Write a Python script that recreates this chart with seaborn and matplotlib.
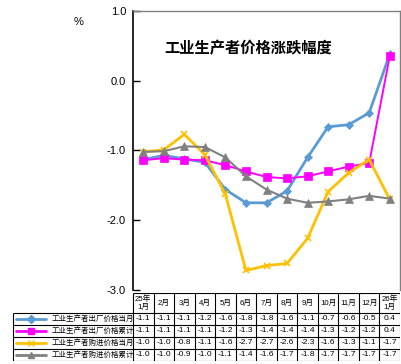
import numpy as np
import pandas as pd
import matplotlib
matplotlib.use("Agg")
import matplotlib.pyplot as plt
import seaborn as sns

sns.set_theme(style="white")
plt.rcParams['font.family'] = ['Liberation Sans', 'Noto Sans CJK SC', 'DejaVu Sans']

# ---------------- data ----------------
months = ['25年\n1月', '2月', '3月', '4月', '5月', '6月', '7月', '8月',
          '9月', '10月', '11月', '12月', '26年\n1月']

series_names = ['工业生产者出厂价格当月', '工业生产者出厂价格累计',
                '工业生产者购进价格当月', '工业生产者购进价格累计']

# values as plotted
ppi_month = [-1.13, -1.07, -1.12, -1.17, -1.56, -1.75, -1.75, -1.58, -1.10, -0.66, -0.63, -0.46, 0.38]
ppi_cum = [-1.14, -1.11, -1.13, -1.14, -1.21, -1.30, -1.38, -1.40, -1.37, -1.30, -1.23, -1.18, 0.35]
ppirm_month = [-1.02, -0.99, -0.77, -1.06, -1.63, -2.72, -2.65, -2.62, -2.26, -1.59, -1.32, -1.13, -1.70]
ppirm_cum = [-1.02, -1.01, -0.94, -0.95, -1.10, -1.37, -1.56, -1.69, -1.75, -1.73, -1.70, -1.65, -1.69]

# values printed in the data table
tbl_ppi_month = [-1.1, -1.1, -1.1, -1.2, -1.6, -1.8, -1.8, -1.6, -1.1, -0.7, -0.6, -0.5, 0.4]
tbl_ppi_cum = [-1.1, -1.1, -1.1, -1.1, -1.2, -1.3, -1.4, -1.4, -1.4, -1.3, -1.2, -1.2, 0.4]
tbl_ppirm_month = [-1.0, -1.0, -0.8, -1.1, -1.6, -2.7, -2.7, -2.6, -2.3, -1.6, -1.3, -1.1, -1.7]
tbl_ppirm_cum = [-1.0, -1.0, -0.9, -1.0, -1.1, -1.4, -1.6, -1.7, -1.8, -1.7, -1.7, -1.7, -1.7]

yticks = [1.0, 0.0, -1.0, -2.0, -3.0]

colors = ['#5B9BD5', '#FF00FF', '#FFC000', '#808080']
markers = ['D', 's', 'x', '^']
msizes = [4, 6, 5, 6]
lwidths = [2.0, 1.4, 2.0, 1.5]

plot_vals = [ppi_month, ppi_cum, ppirm_month, ppirm_cum]
table_vals = [tbl_ppi_month, tbl_ppi_cum, tbl_ppirm_month, tbl_ppirm_cum]

# ---------------- figure ----------------
W, H = 402, 364
fig = plt.figure(figsize=(W / 100, H / 100), dpi=100)

x0, x1 = 133, 400       # plot / column area in pixels
ytop, ybot = 11, 290
ax = fig.add_axes([x0 / W, 1 - ybot / H, (x1 - x0) / W, (ybot - ytop) / H])

xs = np.arange(len(months))
for vals, c, m, ms, lw in zip(plot_vals, colors, markers, msizes, lwidths):
    df = pd.DataFrame({'x': xs, 'y': vals})
    sns.lineplot(data=df, x='x', y='y', ax=ax, color=c, linewidth=lw,
                 marker=m, markersize=ms, markeredgecolor=c,
                 markeredgewidth=1.2 if m == 'x' else 0.5)

ax.set_xlim(-0.5, len(months) - 0.5)
ax.set_ylim(-3.0, 1.0)
ax.set_yticks(yticks)
ax.set_yticklabels([f"{v:.1f}" for v in yticks], fontsize=8, color='black')
ax.tick_params(axis='y', direction='in', length=5, width=1, color='black', pad=5, left=True)
ax.set_xticks([])
ax.set_xlabel('')
ax.set_ylabel('')
for s in ['top', 'right']:
    ax.spines[s].set_color('#808080')
    ax.spines[s].set_linewidth(1)
ax.spines['left'].set_color('black')
ax.spines['left'].set_linewidth(1.2)
ax.spines['bottom'].set_visible(False)
ax.set_facecolor('white')

ax.text(0.43, 0.865, '工业生产者价格涨跌幅度', transform=ax.transAxes,
        ha='center', va='center', fontsize=11, fontweight='bold', color='black')
fig.text(79 / W, 1 - 22 / H, '%', ha='center', va='center', fontsize=8, color='black')

# ---------------- data table ----------------
colw = (x1 - x0) / len(months)
tleft = x0 - 6 * colw
t_top, t_bot = 293, 361
tax = fig.add_axes([tleft / W, 1 - t_bot / H, (x1 - tleft) / W, (t_bot - t_top) / H])
tax.set_xlim(-6.5, len(months) - 0.5)
tax.set_ylim(t_bot - t_top, 0)
tax.axis('off')

hdr = 20
rowh = (t_bot - t_top - hdr) / 4
lc = 'black'
lw_t = 0.8
# header row
tax.hlines(0, -0.5, len(months) - 0.5, color=lc, lw=lw_t)
for i in range(len(months) + 1):
    tax.vlines(i - 0.5, 0, t_bot - t_top, color=lc, lw=lw_t)
tax.vlines(-6.5 + 0.15, hdr, t_bot - t_top, color=lc, lw=lw_t)
for r in range(5):
    tax.hlines(hdr + r * rowh, -6.35, len(months) - 0.5, color=lc, lw=lw_t)

for i, lab in enumerate(months):
    tax.text(i, hdr / 2, lab, ha='center', va='center', fontsize=5.6,
             linespacing=1.1, color='black')

for r, (name, vals, c, m) in enumerate(zip(series_names, table_vals, colors, markers)):
    yc = hdr + (r + 0.5) * rowh
    tax.plot([-6.2, -4.75], [yc, yc], color=c, lw=2)
    tax.plot([-5.47], [yc], marker=m, color=c, markersize=4, markeredgecolor=c)
    tax.text(-4.45, yc, name, ha='left', va='center', fontsize=5.4, color='black')
    for i, v in enumerate(vals):
        tax.text(i, yc, f"{v:.1f}", ha='center', va='center', fontsize=6, color='black')

fig.savefig("out.png", dpi=100, facecolor='white')
